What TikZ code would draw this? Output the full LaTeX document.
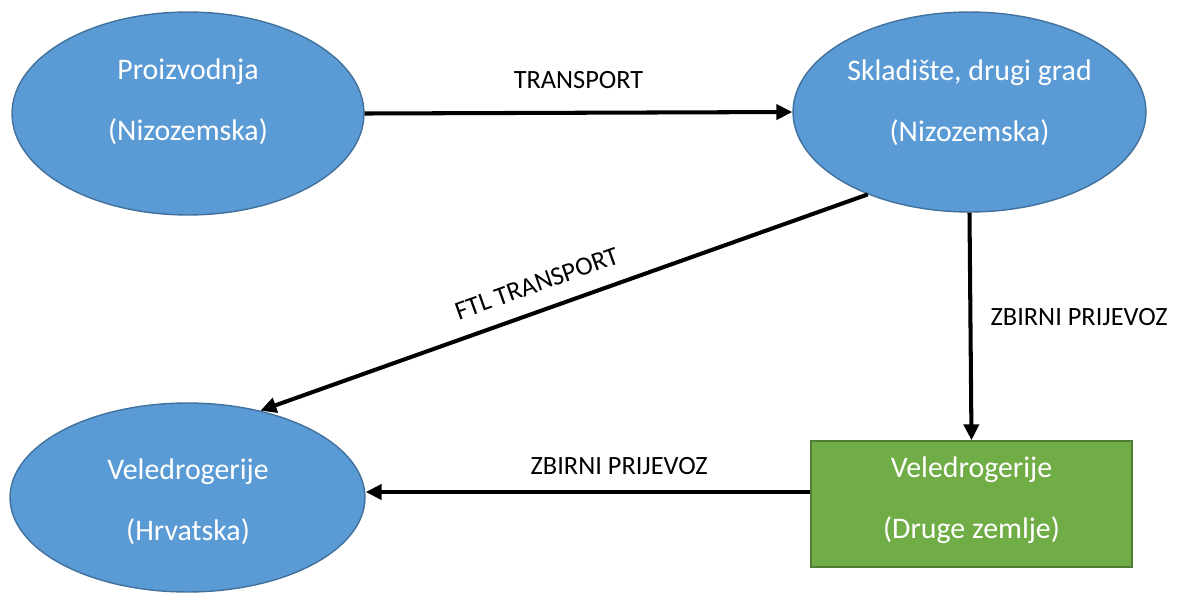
\documentclass[tikz,border=0pt]{standalone}
\usepackage{fontspec}
\setmainfont{Carlito}
\usetikzlibrary{shapes.geometric,arrows.meta}
\definecolor{bluefill}{HTML}{5B9BD5}
\definecolor{blueline}{HTML}{41719C}
\definecolor{greenfill}{HTML}{70AD47}
\definecolor{greenline}{HTML}{507E32}

\begin{document}
\begin{tikzpicture}[x=0.02cm,y=-0.02cm,
    blob/.style={ellipse,draw=blueline,fill=bluefill,line width=0.8pt,inner sep=0pt},
    box/.style={rectangle,draw=greenline,fill=greenfill,line width=0.8pt,inner sep=0pt},
    intext/.style={white,align=center,font=\fontsize{17}{34.7}\selectfont},
    lbl/.style={font=\fontsize{15}{18}\selectfont},
    flow/.style={-{Triangle[length=0.32cm,width=0.3cm]},line width=2.3pt}]
  \useasboundingbox (0,0) rectangle (1177,593);
  \node[blob,minimum width=7.04cm,minimum height=4.06cm] (prod) at (188,113.5) {};
  \node[blob,minimum width=7.06cm,minimum height=4cm] (sklad) at (969.5,112) {};
  \node[blob,minimum width=7.1cm,minimum height=3.78cm] (hrv) at (187.5,497.5) {};
  \node[box,minimum width=6.42cm,minimum height=2.52cm] (dist) at (971.5,504) {};
  \node[intext] (prodtxt) at (188,102) {Proizvodnja\\(Nizozemska)};
  \node[intext] (skladtxt) at (969.5,103) {Skladište, drugi grad\\(Nizozemska)};
  \node[intext] (hrvtxt) at (188,502) {Veledrogerije\\(Hrvatska)};
  \node[intext] (disttxt) at (971.5,500) {Veledrogerije\\(Druge zemlje)};
  \coordinate (distout) at ([yshift=0.24cm]dist.west);
  \draw[flow] (prod.east) -- (sklad.west) node[lbl,midway,above=9.4pt] {TRANSPORT};
  \draw[flow] (sklad.219) -- (hrv.50) node[lbl,pos=0.53,sloped,above=6pt] {FTL TRANSPORT};
  \draw[flow] (sklad.south) -- (dist.north) node[lbl,pos=0.46,right=7pt] {ZBIRNI PRIJEVOZ};
  \draw[flow] (distout) -- (distout -| hrv.east) node[lbl,pos=0.43,above=5.4pt] {ZBIRNI PRIJEVOZ};
\end{tikzpicture}
\end{document}
